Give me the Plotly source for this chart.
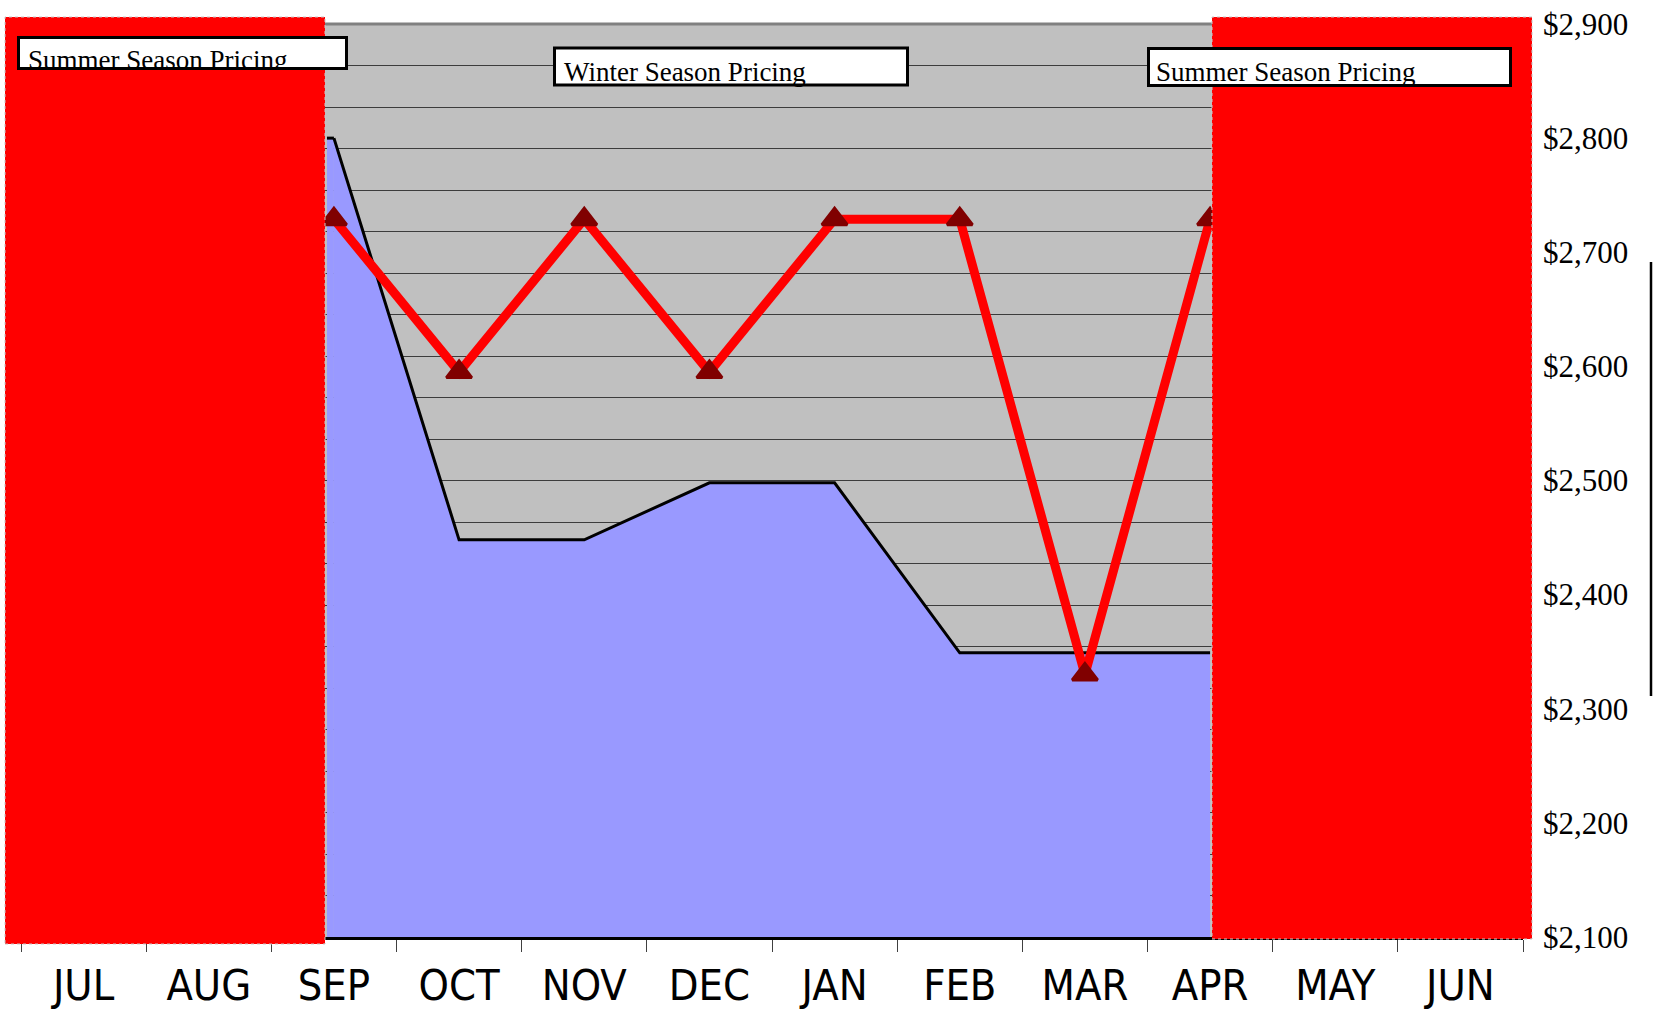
import plotly.graph_objects as go

# ---------------- data ----------------
months = ["JUL", "AUG", "SEP", "OCT", "NOV", "DEC", "JAN", "FEB", "MAR", "APR", "MAY", "JUN"]
winter_months = ["SEP", "OCT", "NOV", "DEC", "JAN", "FEB", "MAR", "APR"]
area_values = [2800, 2448, 2448, 2498, 2498, 2349, 2349, 2349]
price_values = [2729, 2595, 2729, 2595, 2729, 2729, 2330, 2729]
y_ticks = [2100, 2200, 2300, 2400, 2500, 2600, 2700, 2800, 2900]
season_labels = ["Summer Season Pricing", "Winter Season Pricing", "Summer Season Pricing"]

# ---------------- geometry (page pixels) ----------------
OFF = 0
W, H = 1654, 1010
L, T = 21, 24
R = W - 1523
B = H - 937
PW = W - L - R
PH = H - T - B
y_min, y_max = y_ticks[0], y_ticks[-1]
n_grid = 22


def px(x):
    return (x - OFF - L) / PW


def py(y):
    return (H - B - (y - OFF)) / PH


def cat_x(x):
    # page pixel -> category-axis coordinate
    return px(x) * len(months) - 0.5


SERIF = "Liberation Serif, Times New Roman, serif"
NARROW = "Liberation Sans Narrow, Arial Narrow, DejaVu Sans Condensed, sans-serif"

fig = go.Figure()

fig.add_trace(go.Scatter(
    x=winter_months, y=area_values, mode="lines",
    fill="tozeroy", fillcolor="#9999FF",
    line=dict(color="black", width=3), hoverinfo="skip", showlegend=False,
))
fig.add_trace(go.Scatter(
    x=winter_months, y=price_values, mode="lines+markers",
    line=dict(color="#FF0000", width=9),
    marker=dict(symbol="triangle-up", size=22, color="#800000",
                line=dict(color="#800000", width=3)),
    showlegend=False,
))

sep_idx = months.index(winter_months[0])
shapes = [
    # area continues to the left edge of the grey plot
    dict(type="rect", xref="x", yref="y", x0=cat_x(327), x1=sep_idx, y0=y_min, y1=area_values[0],
         fillcolor="#9999FF", line=dict(width=0), layer="between"),
    dict(type="line", xref="x", yref="y", x0=cat_x(327), x1=sep_idx, y0=area_values[0], y1=area_values[0],
         line=dict(color="black", width=3), layer="between"),
    # top border of the grey plot area
    dict(type="line", xref="paper", yref="paper", x0=0, x1=1, y0=py(24), y1=py(24),
         line=dict(color="#808080", width=3), layer="above"),
    # summer season bands
    dict(type="rect", xref="paper", yref="paper", x0=px(5), x1=px(325), y0=py(944), y1=py(17),
         fillcolor="#FF0000", line=dict(color="#C8C8C8", width=1, dash="dot"), layer="above"),
    dict(type="rect", xref="paper", yref="paper", x0=px(1212), x1=px(1532), y0=py(939), y1=py(17),
         fillcolor="#FF0000", line=dict(color="#C8C8C8", width=1, dash="dot"), layer="above"),
    # label boxes
    dict(type="rect", xref="paper", yref="paper", x0=px(18.5), x1=px(346.5), y0=py(68.5), y1=py(37.5),
         fillcolor="white", line=dict(color="black", width=3), layer="above"),
    dict(type="rect", xref="paper", yref="paper", x0=px(554.5), x1=px(907.5), y0=py(85), y1=py(48),
         fillcolor="white", line=dict(color="black", width=3), layer="above"),
    dict(type="rect", xref="paper", yref="paper", x0=px(1148.5), x1=px(1510.5), y0=py(85.5), y1=py(48.5),
         fillcolor="white", line=dict(color="black", width=3), layer="above"),
    # cut-off frame line at the far right
    dict(type="line", xref="paper", yref="paper", x0=px(1651), x1=px(1651), y0=py(696), y1=py(262),
         line=dict(color="black", width=2.5), layer="above"),
]

annotations = [
    dict(text=season_labels[0], xref="paper", yref="paper", x=px(27), y=py(44),
         xanchor="left", yanchor="top", showarrow=False, align="left", valign="top",
         width=315, height=23, borderpad=0, font=dict(family=SERIF, size=27, color="black")),
    dict(text=season_labels[1], xref="paper", yref="paper", x=px(563), y=py(56),
         xanchor="left", yanchor="top", showarrow=False, align="left", borderpad=0,
         font=dict(family=SERIF, size=27, color="black")),
    dict(text=season_labels[2], xref="paper", yref="paper", x=px(1155), y=py(56),
         xanchor="left", yanchor="top", showarrow=False, align="left", borderpad=0,
         font=dict(family=SERIF, size=27, color="black")),
]

fig.update_layout(
    width=W, height=H,
    margin=dict(l=L, r=R, t=T, b=B, autoexpand=False),
    paper_bgcolor="white", plot_bgcolor="#C0C0C0",
    showlegend=False,
    xaxis=dict(
        type="category", categoryorder="array", categoryarray=months,
        range=[-0.5, 11.5], tickson="boundaries", ticks="outside", ticklen=12,
        tickwidth=1, tickcolor="#404040", showline=True, linecolor="black", linewidth=3,
        showgrid=False, zeroline=False, ticklabelstandoff=8,
        tickfont=dict(family=NARROW, size=43, color="black"),
    ),
    yaxis=dict(
        side="right", range=[y_min, y_max], tickmode="array", tickvals=y_ticks,
        tickformat="$,.0f", showgrid=False, zeroline=False, ticks="", showline=False,
        ticklabelstandoff=19, ticklabeloverflow="allow",
        tickfont=dict(family=SERIF, size=31, color="black"),
        minor=dict(tickmode="linear", tick0=y_min, dtick=(y_max - y_min) / n_grid,
                   showgrid=True, gridcolor="#3C3C3C", gridwidth=1.2, ticks=""),
    ),
    shapes=shapes,
    annotations=annotations,
)

fig.write_html(
    "out.html",
    config={"displayModeBar": False},
    post_script=(
        "document.body.style.margin='0';"
        "document.body.style.overflow='hidden';"
        "document.documentElement.style.overflow='hidden';"
    ),
)
